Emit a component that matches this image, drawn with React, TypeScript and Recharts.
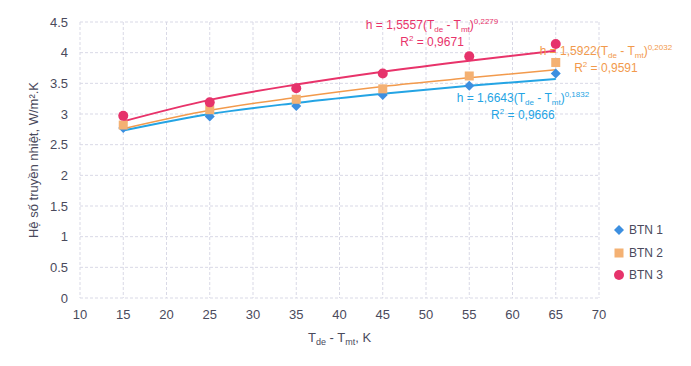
import React from 'react'
import {
  ComposedChart, Line, Scatter, XAxis, YAxis, CartesianGrid, ReferenceDot, Label,
} from 'recharts'

// ─── Data ─────────────────────────────────────────────────────
const tempDiff = [15, 25, 35, 45, 55, 65]
const btn1 = [2.77, 2.96, 3.13, 3.31, 3.46, 3.66]
const btn2 = [2.82, 3.07, 3.24, 3.41, 3.62, 3.84]
const btn3 = [2.97, 3.19, 3.42, 3.66, 3.94, 4.14]
// power-law trendlines
const trend1 = [2.73, 3.00, 3.18, 3.33, 3.46, 3.57]
const trend2 = [2.76, 3.06, 3.27, 3.45, 3.59, 3.72]
const trend3 = [2.88, 3.23, 3.48, 3.69, 3.87, 4.03]
const xTicks = [10, 15, 20, 25, 30, 35, 40, 45, 50, 55, 60, 65, 70]
const yTicks = [0, 0.5, 1, 1.5, 2, 2.5, 3, 3.5, 4, 4.5]

const COLORS = {
  btn1: '#3d8fe0',
  btn2: '#f4b173',
  btn3: '#e6336b',
  trend1: '#24a4e4',
  trend2: '#f29a4c',
  trend3: '#e8336a',
}

const FONT = '"Liberation Sans", Arial, sans-serif'
const tickStyle = { fontSize: 13, fontFamily: FONT, fill: '#4a4a5c' }

const points = (ys: number[]) => tempDiff.map((x, i) => ({ x, y: ys[i] }))

const Diamond = ({ cx, cy, fill }: any) => (
  <path d={`M${cx},${cy - 5}L${cx + 5},${cy}L${cx},${cy + 5}L${cx - 5},${cy}Z`} fill={fill} />
)
const Square = ({ cx, cy, fill }: any) => (
  <rect x={cx - 4.5} y={cy - 4.5} width={9} height={9} fill={fill} />
)
const Dot = ({ cx, cy, fill }: any) => <circle cx={cx} cy={cy} r={5} fill={fill} />

// equation text: h = a(T_de - T_mt)^b  /  R² = r
function Equation({ viewBox, color, a, b, r }: any) {
  const { x, y } = viewBox
  const fs = 12
  return (
    <g fontFamily={FONT} fill={color} textAnchor="middle">
      <text x={x} y={y} fontSize={fs}>
        h = {a}(T<tspan fontSize={8} dy={3}>de</tspan>
        <tspan dy={-3}> - T</tspan><tspan fontSize={8} dy={3}>mt</tspan>
        <tspan dy={-3}>)</tspan><tspan fontSize={8} dy={-5}>{b}</tspan>
      </text>
      <text x={x} y={y + 17} fontSize={fs}>
        R<tspan fontSize={8} dy={-5}>2</tspan><tspan dy={5}> = {r}</tspan>
      </text>
    </g>
  )
}

function XLabel({ viewBox }: any) {
  const { x, y, width } = viewBox
  return (
    <text x={x + width / 2} y={y + 44} textAnchor="middle" fontFamily={FONT} fontSize={13} fill="#4a4a5c">
      T<tspan fontSize={9} dy={3}>de</tspan><tspan dy={-3}> - T</tspan>
      <tspan fontSize={9} dy={3}>mt</tspan><tspan dy={-3}>, K</tspan>
    </text>
  )
}

const legendItems = [
  { name: 'BTN 1', color: COLORS.btn1, shape: 'diamond' },
  { name: 'BTN 2', color: COLORS.btn2, shape: 'square' },
  { name: 'BTN 3', color: COLORS.btn3, shape: 'circle' },
]

function LegendContent() {
  return (
    <div style={{ fontFamily: FONT, fontSize: 12, color: '#4a4a5c' }}>
      {legendItems.map(it => (
        <div key={it.name} style={{ display: 'flex', alignItems: 'center', height: 22.5 }}>
          <svg width={12} height={12} style={{ marginRight: 4 }}>
            {it.shape === 'diamond' && <Diamond cx={6} cy={6} fill={it.color} />}
            {it.shape === 'square' && <Square cx={6} cy={6} fill={it.color} />}
            {it.shape === 'circle' && <Dot cx={6} cy={6} fill={it.color} />}
          </svg>
          <span>{it.name}</span>
        </div>
      ))}
    </div>
  )
}

export default function App() {
  return (
    <div style={{ position: 'absolute', left: 0, top: 0, width: 691, height: 366, background: '#fff' }}>
      <ComposedChart width={691} height={366} margin={{ top: 22, right: 92, bottom: 0, left: 0 }}>
        <CartesianGrid stroke="#d9d9e6" strokeDasharray="3 2" />
        <XAxis
          type="number" dataKey="x" domain={[10, 70]} ticks={xTicks} interval={0}
          tick={tickStyle} tickLine={false} axisLine={false} height={68} tickMargin={6}
          allowDuplicatedCategory={false}
        >
          <Label content={<XLabel />} />
        </XAxis>
        <YAxis
          type="number" dataKey="y" domain={[0, 4.5]} ticks={yTicks} interval={0}
          tick={tickStyle} tickLine={false} axisLine={false} width={80} tickMargin={6}
          label={{
            value: 'Hệ số truyền nhiệt, W/m².K', angle: -90, position: 'insideLeft', offset: 33,
            style: { textAnchor: 'middle', fontFamily: FONT, fontSize: 13, fill: '#4a4a5c' },
          }}
        />
        <Line data={points(trend1)} dataKey="y" type="monotone" stroke={COLORS.trend1} strokeWidth={2} dot={false} isAnimationActive={false} legendType="none" />
        <Line data={points(trend2)} dataKey="y" type="monotone" stroke={COLORS.trend2} strokeWidth={1.5} dot={false} isAnimationActive={false} legendType="none" />
        <Line data={points(trend3)} dataKey="y" type="monotone" stroke={COLORS.trend3} strokeWidth={2} dot={false} isAnimationActive={false} legendType="none" />
        <Scatter name="BTN 1" data={points(btn1)} fill={COLORS.btn1} shape={<Diamond />} isAnimationActive={false} />
        <Scatter name="BTN 2" data={points(btn2)} fill={COLORS.btn2} shape={<Square />} isAnimationActive={false} />
        <Scatter name="BTN 3" data={points(btn3)} fill={COLORS.btn3} shape={<Dot />} isAnimationActive={false} />
        <ReferenceDot x={50.7} y={4.38} r={0} ifOverflow="visible"
          label={<Equation color={COLORS.trend3} a="1,5557" b="0,2279" r="0,9671" />} />
        <ReferenceDot x={70.8} y={3.97} r={0} ifOverflow="visible"
          label={<Equation color={COLORS.trend2} a="1,5922" b="0,2032" r="0,9591" />} />
        <ReferenceDot x={61.2} y={3.20} r={0} ifOverflow="visible"
          label={<Equation color={COLORS.trend1} a="1,6643" b="0,1832" r="0,9666" />} />
      </ComposedChart>
      <div style={{ position: 'absolute', left: 613, top: 219 }}>
        <LegendContent />
      </div>
    </div>
  )
}
